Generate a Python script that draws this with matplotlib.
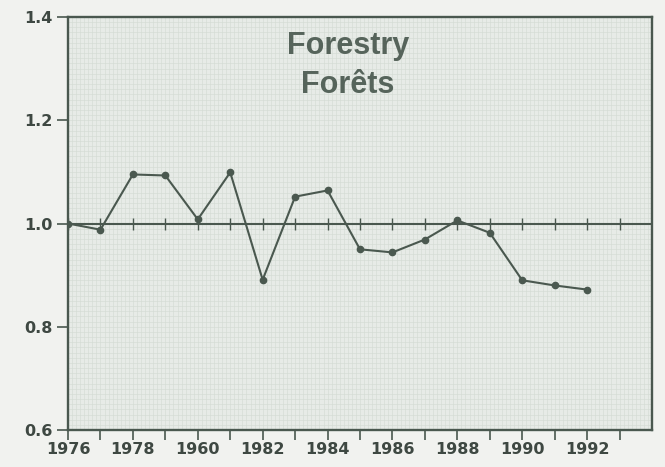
import matplotlib.pyplot as plt
import numpy as np

years = [1976, 1977, 1978, 1979, 1980, 1981, 1982, 1983, 1984,
         1985, 1986, 1987, 1988, 1989, 1990, 1991, 1992]
index = [1.000, 0.988, 1.095, 1.093, 1.008, 1.099, 0.891, 1.052, 1.064,
         0.950, 0.944, 0.969, 1.006, 0.982, 0.890, 0.880, 0.872]
tick_years = list(range(1976, 1994))
x_labels = ['1976', '', '1978', '', '1960', '', '1982', '', '1984', '',
            '1986', '', '1988', '', '1990', '', '1992', '']
y_ticks = [0.6, 0.8, 1.0, 1.2, 1.4]
y_labels = ['0.6', '0.8', '1.0', '1.2', '1.4']

ink = '#4a584f'
plt.rcParams['font.family'] = ['Liberation Sans', 'DejaVu Sans']

fig = plt.figure(figsize=(6.65, 4.67), dpi=100, facecolor='#f1f2ef')
ax = fig.add_axes([68 / 665, 37 / 467, 584 / 665, 413 / 467])
ax.set_facecolor('#e7ebe7')

ax.set_xlim(1976, 1994)
ax.set_ylim(0.6, 1.4)

# fine graph-paper grid
for gx in np.arange(1976, 1994, 0.125):
    ax.axvline(gx, color='#d3dad3', lw=0.4, zorder=0)
for gy in np.arange(0.6, 1.4, 0.01):
    ax.axhline(gy, color='#d3dad3', lw=0.4, zorder=0)

# reference line with year ticks
ax.axhline(1.0, color=ink, lw=1.5, zorder=2)
ax.scatter(tick_years, np.ones(len(tick_years)), marker='|', s=70, color=ink,
           lw=1.0, zorder=2)

ax.plot(years, index, color=ink, lw=1.5, marker='o', ms=4.5, zorder=3)

ax.text(0.479, 0.967, 'Forestry\nForêts', transform=ax.transAxes, ha='center',
        va='top', fontsize=22, fontweight='bold', color='#56645b',
        linespacing=1.4)

ax.set_xticks(tick_years)
ax.set_xticklabels(x_labels)
ax.set_yticks(y_ticks)
ax.set_yticklabels(y_labels)
ax.tick_params(axis='x', direction='out', length=7, width=1.2, colors=ink, pad=2)
ax.tick_params(axis='y', direction='out', length=8, width=1.2, colors=ink, pad=3)
for lab in ax.get_xticklabels() + ax.get_yticklabels():
    lab.set_family(['DejaVu Sans'])
    lab.set_fontsize(11.5)
    lab.set_fontweight('bold')
    lab.set_color('#3e4842')
for sp in ax.spines.values():
    sp.set_color(ink)
    sp.set_linewidth(1.7)

fig.savefig('out.png', dpi=100, facecolor=fig.get_facecolor())
